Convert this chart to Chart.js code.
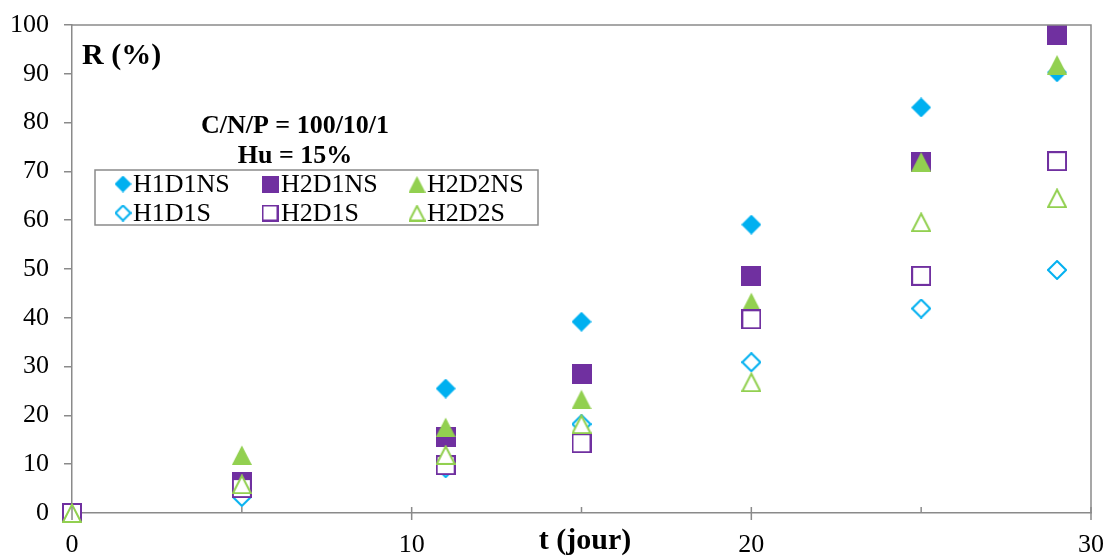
<!DOCTYPE html>
<html><head><meta charset="utf-8">
<script src="https://cdn.jsdelivr.net/npm/chart.js@4/dist/chart.umd.min.js"></script>
<style>html,body{margin:0;padding:0;background:#fff}#wrap{width:1107px;height:557px;position:relative}</style>
</head><body><div id="wrap"><canvas id="c" width="1107" height="557"></canvas></div>
<script>
// ---- data ----
const days = [0, 5, 11, 15, 20, 25, 29];
const seriesNames = ['H1D1NS', 'H2D1NS', 'H2D2NS', 'H1D1S', 'H2D1S', 'H2D2S'];
const h1d1ns = [0, 5.0, 25.5, 39.2, 59.1, 83.1, 90.3];
const h2d1ns = [0, 6.4, 15.5, 28.5, 48.6, 71.9, 97.9];
const h2d2ns = [0, 11.9, 17.6, 23.3, 43.2, 72.0, 91.9];
const h1d1s  = [0, 3.3, 9.2, 18.2, 30.9, 41.9, 49.8];
const h2d1s  = [0, 5.1, 9.8, 14.3, 39.7, 48.6, 72.1];
const h2d2s  = [0, 5.9, 11.9, 18.2, 26.8, 59.6, 64.5];
const xTicks = [0, 10, 20, 30];
const yTicks = [0, 10, 20, 30, 40, 50, 60, 70, 80, 90, 100];
const titleY = 'R (%)';
const titleX = 't (jour)';
const note1 = 'C/N/P = 100/10/1';
const note2 = 'Hu = 15%';

const BLUE = '#00B0F0', PURPLE = '#7030A0', GREEN = '#92D050', AXIS = '#8a8a8a';
const FONT = "'Liberation Serif', 'Times New Roman', serif";

function marker(shape, color, filled, s) {
  const c = document.createElement('canvas');
  c.width = s; c.height = s;
  const g = c.getContext('2d');
  const lw = filled ? 0 : 2;
  const i = lw / 2;
  g.beginPath();
  if (shape === 'square') {
    g.rect(i, i, s - 2 * i, s - 2 * i);
  } else if (shape === 'diamond') {
    g.moveTo(s / 2, i); g.lineTo(s - i, s / 2); g.lineTo(s / 2, s - i); g.lineTo(i, s / 2); g.closePath();
  } else {
    g.moveTo(s / 2, i + 0.5); g.lineTo(s - i, s - i); g.lineTo(i, s - i); g.closePath();
  }
  if (filled) { g.fillStyle = color; g.fill(); }
  else { g.fillStyle = '#fff'; g.fill(); g.strokeStyle = color; g.lineWidth = lw; g.lineJoin = 'miter'; g.stroke(); }
  return c;
}

const styles = [
  ['diamond', BLUE, true], ['square', PURPLE, true], ['triangle', GREEN, true],
  ['diamond', BLUE, false], ['square', PURPLE, false], ['triangle', GREEN, false]
];
const values = [h1d1ns, h2d1ns, h2d2ns, h1d1s, h2d1s, h2d2s];

const datasets = values.map((vals, k) => ({
  label: seriesNames[k],
  data: days.map((d, j) => ({ x: d, y: vals[j] })),
  pointStyle: marker(styles[k][0], styles[k][1], styles[k][2], 20),
  pointRadius: 10,
  pointHoverRadius: 10,
  borderWidth: 0,
  showLine: false,
  clip: false,
  order: 6 - k
}));
const legendMarks = styles.map(s => marker(s[0], s[1], s[2], 17));

const decor = {
  id: 'decor',
  afterDraw(chart) {
    const ctx = chart.ctx, a = chart.chartArea, xs = chart.scales.x;
    ctx.save();
    ctx.strokeStyle = AXIS; ctx.lineWidth = 1.5;
    ctx.beginPath();
    ctx.moveTo(a.left, a.top); ctx.lineTo(a.right, a.top); ctx.lineTo(a.right, a.bottom);
    ctx.stroke();
    for (let v = 0; v <= 30; v += 5) {
      const px = xs.getPixelForValue(v);
      ctx.beginPath();
      ctx.moveTo(px, a.bottom - 6);
      ctx.lineTo(px, v % 10 === 0 ? a.bottom + 7 : a.bottom);
      ctx.stroke();
    }
    ctx.fillStyle = '#000';
    ctx.textBaseline = 'alphabetic';
    ctx.font = 'bold 30px ' + FONT;
    ctx.textAlign = 'left';
    ctx.fillText(titleY, 82, 64);
    ctx.textAlign = 'center';
    ctx.fillText(titleX, 585, 549);
    ctx.font = 'bold 26px ' + FONT;
    ctx.fillText(note1, 295, 133);
    ctx.fillText(note2, 295, 163);
    ctx.fillStyle = '#fff';
    ctx.fillRect(95, 170, 443, 55);
    ctx.strokeStyle = AXIS; ctx.lineWidth = 1.5;
    ctx.strokeRect(95, 170, 443, 55);
    const colM = [123, 270, 417], colT = [133, 281, 427], rowY = [184, 213];
    ctx.font = '26px ' + FONT;
    ctx.textAlign = 'left';
    ctx.textBaseline = 'middle';
    ctx.fillStyle = '#000';
    seriesNames.forEach((n, k) => {
      const c = k % 3, r = Math.floor(k / 3);
      const m = legendMarks[k];
      ctx.drawImage(m, colM[c] - m.width / 2, rowY[r] - m.height / 2);
      ctx.fillText(n, colT[c], rowY[r] + 1);
    });
    ctx.restore();
  }
};

new Chart(document.getElementById('c'), {
  type: 'scatter',
  data: { datasets },
  options: {
    responsive: false,
    animation: false,
    devicePixelRatio: 1,
    layout: { padding: { top: 25, right: 16, left: 0, bottom: 0 } },
    plugins: { legend: { display: false }, tooltip: { enabled: false }, title: { display: false } },
    scales: {
      x: {
        type: 'linear', min: 0, max: 30,
        afterBuildTicks: s => { s.ticks = xTicks.map(v => ({ value: v })); },
        afterFit: s => { s.height = 44; s.paddingLeft = 0; s.paddingRight = 0; },
        grid: { display: true, drawOnChartArea: false, drawTicks: false },
        border: { color: AXIS, width: 1.5 },
        ticks: { font: { family: FONT, size: 26 }, color: '#000', padding: 17, maxRotation: 0 }
      },
      y: {
        type: 'linear', min: 0, max: 100,
        afterBuildTicks: s => { s.ticks = yTicks.map(v => ({ value: v })); },
        afterFit: s => { s.width = 72; s.paddingTop = 0; s.paddingBottom = 0; },
        grid: { display: true, drawOnChartArea: false, drawTicks: true, tickLength: 8, color: AXIS, lineWidth: 1.5 },
        border: { color: AXIS, width: 1.5 },
        ticks: { font: { family: FONT, size: 26 }, color: '#000', padding: 15 }
      }
    }
  },
  plugins: [decor]
});
</script></body></html>
